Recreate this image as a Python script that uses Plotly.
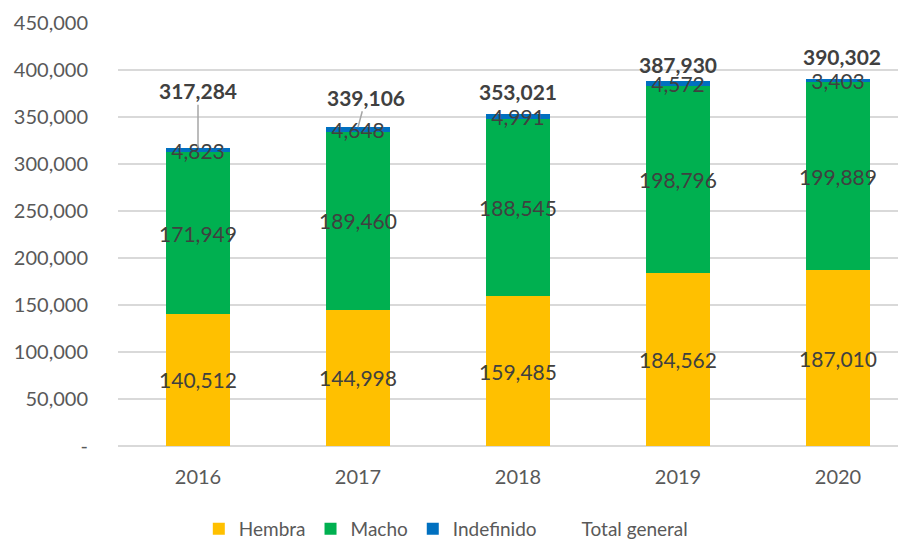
import plotly.graph_objects as go

years = ["2016", "2017", "2018", "2019", "2020"]
hembra = [140512, 144998, 159485, 184562, 187010]
macho = [171949, 189460, 188545, 198796, 199889]
indefinido = [4823, 4648, 4991, 4572, 3403]
totales = [317284, 339106, 353021, 387930, 390302]
y_tickvals = [0, 50000, 100000, 150000, 200000, 250000, 300000, 350000, 400000, 450000]
y_ticktext = ["-", "50,000", "100,000", "150,000", "200,000", "250,000", "300,000", "350,000", "400,000", "450,000"]

# label offsets (pixels) for total labels: (ax, ay, showarrow)
total_offsets = [(0, -57, True), (8, -30, True), (0, -23, False), (0, -17, False), (4, -23, False)]

FONT = "Lato, Open Sans, sans-serif"
LBL = "#404040"

def fmt(v):
    return f"{v:,}"

fig = go.Figure()
for name, vals, col in [("Hembra", hembra, "#FFC000"), ("Macho", macho, "#00B050"), ("Indefinido", indefinido, "#0070C0")]:
    fig.add_trace(go.Bar(
        name=name, x=years, y=vals, marker=dict(color=col, line=dict(width=0)),
        text=[fmt(v) for v in vals], textposition="inside", insidetextanchor="middle",
        constraintext="none", textangle=0,
        textfont=dict(family=FONT, size=21, color=LBL), width=0.4,
    ))
fig.add_trace(go.Scatter(
    name="Total general", x=years, y=totales, mode="markers",
    marker=dict(color="rgba(0,0,0,0)", size=1), hoverinfo="skip",
))

for i, tot in enumerate(totales):
    ax, ay, arrow = total_offsets[i]
    if arrow:
        fig.add_annotation(x=i, y=tot, xref="x", yref="y", text=f"<b>{fmt(tot)}</b>", showarrow=True,
                           arrowhead=0, arrowwidth=1.5, arrowcolor="#A6A6A6",
                           ax=ax, ay=ay, font=dict(family=FONT, size=21, color=LBL))
    else:
        fig.add_annotation(x=i, y=tot, xref="x", yref="y", text=f"<b>{fmt(tot)}</b>", showarrow=False,
                           xshift=ax, yshift=-ay, font=dict(family=FONT, size=21, color=LBL))

fig.update_layout(
    barmode="stack",
    width=898, height=534,
    margin=dict(l=110, r=0, t=15, b=96, autoexpand=False),
    plot_bgcolor="white", paper_bgcolor="white",
    font=dict(family=FONT, size=19, color="#595959"),
    showlegend=True,
    legend=dict(orientation="h", x=0.416, xanchor="center", y=-0.196, yanchor="middle",
                font=dict(family=FONT, size=19, color="#595959"), traceorder="normal"),
    xaxis=dict(type="category", range=[-0.5, 4.425], showgrid=False, showline=False, ticks="",
               ticklabelstandoff=17,
               tickfont=dict(family=FONT, size=20, color="#595959")),
    yaxis=dict(range=[0, 450000], tickvals=y_tickvals, ticktext=y_ticktext,
               showgrid=True, gridcolor="#D9D9D9", gridwidth=1.5, zeroline=True,
               zerolinecolor="#D9D9D9", zerolinewidth=1.5, showline=False, ticks="",
               ticklabelstandoff=29,
               tickfont=dict(family=FONT, size=20, color="#595959")),
)

fig.write_html("out.html")
